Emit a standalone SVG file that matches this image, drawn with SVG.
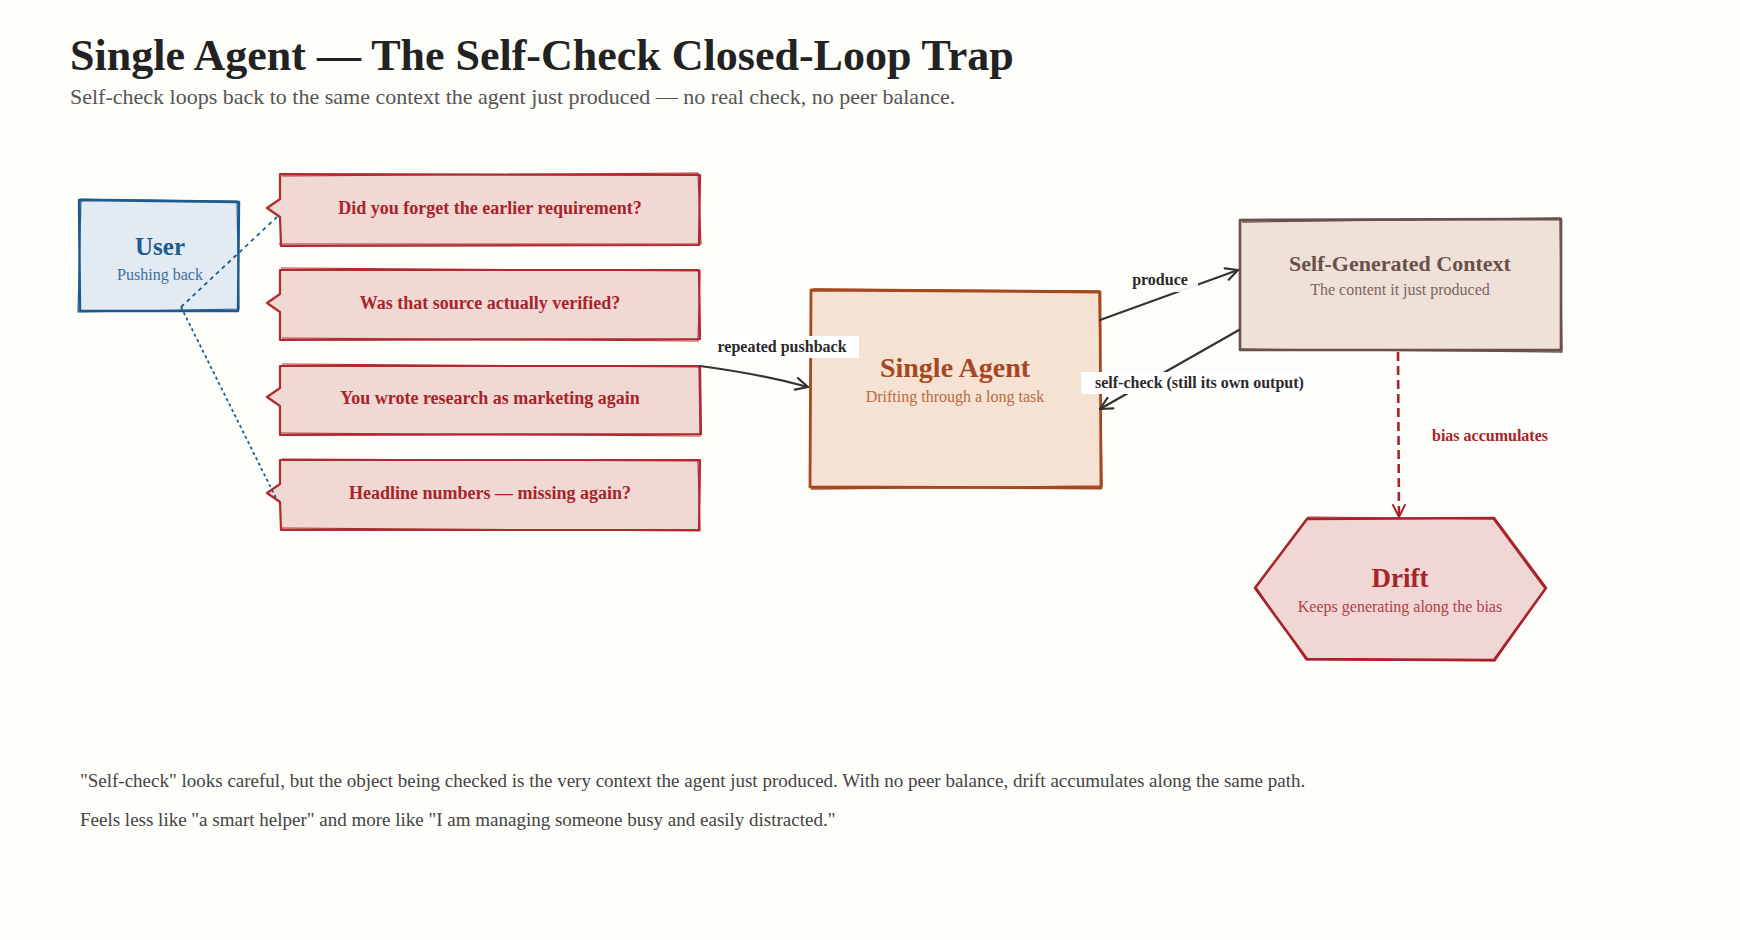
<svg xmlns="http://www.w3.org/2000/svg" width="1740" height="940" viewBox="0 0 1740 940">
<defs>
<style>
.serif{font-family:"Liberation Serif","Times New Roman",serif}
.title{font-size:44px;font-weight:bold;fill:#222}
.sub{font-size:22px;fill:#555}
.foot{font-size:19px;fill:#444}
.q{font-size:18px;font-weight:bold;fill:#a8232b}
.qbox{fill:#f0d8d3;stroke:#b02a30;stroke-width:2.2;stroke-linejoin:round}
.qline{fill:none;stroke:#b02a30;stroke-width:1.2}
.lbl{font-size:16px;font-weight:bold;fill:#2a2a2a}
.conn{fill:none;stroke:#333;stroke-width:2.2;stroke-linecap:round}
</style>
<marker id="arr" viewBox="0 0 16 16" refX="14" refY="8" markerWidth="16" markerHeight="16" orient="auto" markerUnits="userSpaceOnUse">
<path d="M2 2 L14 8 L2 14" fill="none" stroke="#333" stroke-width="2.2" stroke-linecap="round" stroke-linejoin="round"/>
</marker>
<marker id="arrRed" viewBox="0 0 16 16" refX="14" refY="8" markerWidth="16" markerHeight="16" orient="auto" markerUnits="userSpaceOnUse">
<path d="M2 2 L14 8 L2 14" fill="none" stroke="#a8232b" stroke-width="2" stroke-linecap="round" stroke-linejoin="round"/>
</marker>
</defs>
<rect x="0" y="0" width="1740" height="940" fill="#fdfdf9"/>

<g id="header" class="serif">
<text x="70" y="70" class="title">Single Agent — The Self-Check Closed-Loop Trap</text>
<text x="70" y="104" class="sub">Self-check loops back to the same context the agent just produced — no real check, no peer balance.</text>
</g>

<g id="user" class="serif">
<path d="M79 200 L239 202 L238 311 L80 311 Z" fill="#e2eaf3" stroke="#1e5a8c" stroke-width="2.4" stroke-linejoin="round"/>
<path d="M81 199 L237 201 L239 309 L78 312 Z" fill="none" stroke="#1e5a8c" stroke-width="1.2"/>
<text x="160" y="255" text-anchor="middle" font-size="25" font-weight="bold" fill="#1e5a8c">User</text>
<text x="160" y="280" text-anchor="middle" font-size="16" fill="#3c6e99">Pushing back</text>
</g>

<g id="q1" class="serif">
<path d="M280 174 L700 175 L699 245 L281 246 L280 217 L267 208 L280 199 Z" class="qbox"/>
<path d="M282 176 L698 173 L701 244 L279 244" class="qline"/>
<text x="490" y="214" text-anchor="middle" class="q">Did you forget the earlier requirement?</text>
</g>
<g id="q2" class="serif">
<path d="M280 270 L699 270 L700 339 L280 340 L280 312 L267 303 L280 294 Z" class="qbox"/>
<path d="M281 268 L700 271 L698 341 L282 338" class="qline"/>
<text x="490" y="309" text-anchor="middle" class="q">Was that source actually verified?</text>
</g>
<g id="q3" class="serif">
<path d="M280 366 L700 366 L701 434 L280 435 L280 406 L267 397 L280 388 Z" class="qbox"/>
<path d="M282 364 L699 367 L700 436 L279 433" class="qline"/>
<text x="490" y="404" text-anchor="middle" class="q">You wrote research as marketing again</text>
</g>
<g id="q4" class="serif">
<path d="M280 460 L700 460 L699 530 L281 530 L280 502 L267 493 L280 484 Z" class="qbox"/>
<path d="M282 459 L698 461 L700 531 L280 528" class="qline"/>
<text x="490" y="499" text-anchor="middle" class="q">Headline numbers — missing again?</text>
</g>

<g id="agent" class="serif">
<path d="M811 290 L1100 292 L1101 488 L810 487 Z" fill="#f5e2d3" stroke="#a5481f" stroke-width="2.8" stroke-linejoin="round"/>
<path d="M813 289 L1099 291 L1102 486 L811 489" fill="none" stroke="#a5481f" stroke-width="1.4"/>
<text x="955" y="377" text-anchor="middle" font-size="28" font-weight="bold" fill="#a5481f">Single Agent</text>
<text x="955" y="402" text-anchor="middle" font-size="16" fill="#b86a43">Drifting through a long task</text>
</g>

<g id="context" class="serif">
<path d="M1240 220 L1561 219 L1561 350 L1240 350 Z" fill="#efe1d7" stroke="#6a504a" stroke-width="2.6" stroke-linejoin="round"/>
<path d="M1242 222 L1560 218 L1562 352 L1239 349" fill="none" stroke="#6a504a" stroke-width="1.3"/>
<text x="1400" y="271" text-anchor="middle" font-size="22" font-weight="bold" fill="#6a504a">Self-Generated Context</text>
<text x="1400" y="295" text-anchor="middle" font-size="16" fill="#7a6660">The content it just produced</text>
</g>

<g id="drift" class="serif">
<path d="M1307 519 L1494 518 L1546 588 L1494 660 L1307 659 L1255 588 Z" fill="#f0d7d4" stroke="#a8232b" stroke-width="2.6" stroke-linejoin="round"/>
<path d="M1308 517 L1493 519 L1545 589 L1495 661 L1306 660 L1256 587 Z" fill="none" stroke="#a8232b" stroke-width="1.1"/>
<text x="1400" y="587" text-anchor="middle" font-size="27" font-weight="bold" fill="#a8232b">Drift</text>
<text x="1400" y="612" text-anchor="middle" font-size="16" fill="#b04048">Keeps generating along the bias</text>
</g>

<g id="connectors">
<path d="M181 307 L277 217" fill="none" stroke="#1e5a8c" stroke-width="1.8" stroke-dasharray="4 4"/>
<path d="M181 307 L277 500" fill="none" stroke="#1e5a8c" stroke-width="1.8" stroke-dasharray="3 3"/>
<path d="M700 366 Q760 374 808 387" class="conn" marker-end="url(#arr)"/>
<path d="M1100 320 L1238 270" class="conn" marker-end="url(#arr)"/>
<path d="M1239 330 L1100 409" class="conn" marker-end="url(#arr)"/>
<path d="M1398 352 L1399 517" fill="none" stroke="#a8232b" stroke-width="2.6" stroke-dasharray="9 5" marker-end="url(#arrRed)"/>
<g class="serif">
<rect x="706" y="336" width="153" height="22" fill="#ffffff"/>
<text x="782" y="352" class="lbl" text-anchor="middle">repeated pushback</text>
<rect x="1122" y="270" width="76" height="22" fill="#fdfdf9" opacity="0.92"/>
<text x="1160" y="285" class="lbl" text-anchor="middle">produce</text>
<rect x="1081" y="372" width="229" height="22" fill="#ffffff"/>
<text x="1095" y="388" class="lbl">self-check (still its own output)</text>
<text x="1432" y="441" class="lbl" style="fill:#a8232b">bias accumulates</text>
</g>
</g>

<g id="footer" class="serif">
<text x="80" y="787" class="foot">"Self-check" looks careful, but the object being checked is the very context the agent just produced. With no peer balance, drift accumulates along the same path.</text>
<text x="80" y="826" class="foot">Feels less like "a smart helper" and more like "I am managing someone busy and easily distracted."</text>
</g>
</svg>
